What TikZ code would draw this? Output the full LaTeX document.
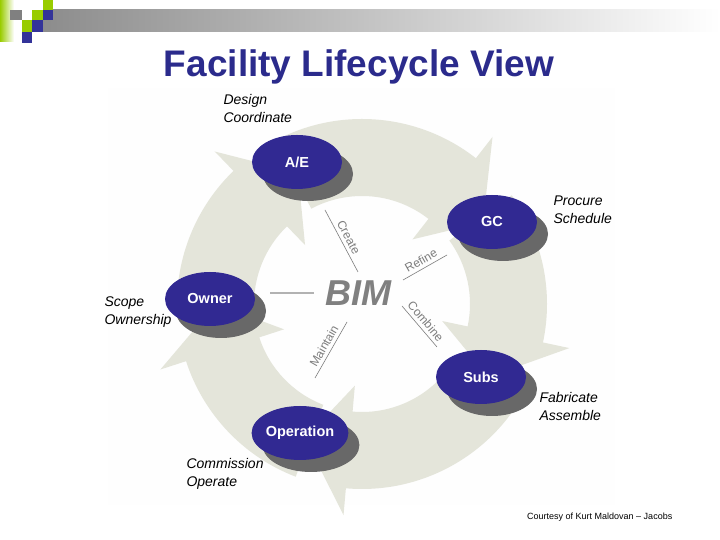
\documentclass[tikz,border=0pt]{standalone}
\usepackage{fontspec}
\setmainfont{Liberation Sans}
\usepackage{tikz}
\usetikzlibrary{positioning, calc, shapes, shadows}
\definecolor{slideblue}{RGB}{43,43,140}
\definecolor{discblue}{RGB}{49,41,146}
\definecolor{tileblue}{RGB}{51,51,153}
\definecolor{tilegreen}{RGB}{153,204,0}
\definecolor{discshadow}{RGB}{104,104,104}
\definecolor{ringgray}{RGB}{228,229,218}
\definecolor{spokegray}{RGB}{125,125,125}
\newcommand{\ringin}{108}
\newcommand{\ringout}{185}
\newcommand{\ringmid}{146}
\newcommand{\barbin}{82}
\newcommand{\barbout}{212}
% one curved arrow of the ring: tail angle, head base angle, tip angle
\newcommand{\ringarrow}[3]{\fill [ringgray, shift={(hub)}] (#1:\ringout) arc [start angle=#1, end angle=#2, radius=\ringout] -- (#2:\barbout) -- (#3:\ringmid) -- (#2:\barbin) -- (#2:\ringin) arc [start angle=#2, end angle=#1, radius=\ringin] -- cycle;}
\tikzset{>=stealth,
	disc/.style={ellipse, fill=discblue, text=white, font=\fontsize{14.5}{16}\selectfont\bfseries, minimum width=90pt, minimum height=54pt, inner sep=0pt, general shadow={fill=discshadow, shadow xshift=11pt, shadow yshift=-12pt}},
	role/.style={align=left, anchor=west, font=\fontsize{14}{18}\selectfont\itshape},
	spoke/.style={spokegray, line width=0.6pt},
	spoketext/.style={spokegray, font=\fontsize{12}{13}\selectfont, sloped, above, inner sep=3.5pt}}

\begin{document}
\begin{tikzpicture}[x=1pt, y=1pt]
				\useasboundingbox (0,0) rectangle (720,540);

				% banner
				\shade [left color=tilegreen, right color=white] (0,498) rectangle (14,540);
				\shade [left color=gray!90, right color=white] (43,508) rectangle (720,530);
				\fill [gray] (10,520) rectangle (22,530);
				\fill [tilegreen] (43,530) rectangle (53,540);
				\fill [tilegreen] (32,520) rectangle (43,530);
				\fill [tileblue] (43,520) rectangle (53,530);
				\fill [tilegreen] (22,508) rectangle (32,520);
				\fill [tileblue] (32,508) rectangle (43,520);
				\fill [tileblue] (22,497) rectangle (32,508);

				\node [slideblue, font=\fontsize{37}{40}\selectfont\bfseries, anchor=base] (title) at (359,463) {Facility Lifecycle View};

				\fill [white!97!ringgray] (108,35) rectangle (615,452);

				% ring of arrows
				\coordinate (hub) at (362,236);
				\ringarrow{182}{134}{116}
				\ringarrow{118}{52}{34}
				\ringarrow{36}{-12}{-30}
				\ringarrow{-28}{-95}{-113}
				\ringarrow{249}{198}{180}

				% spokes round BIM
				\coordinate (create-a) at (325,330);
				\coordinate (create-b) at (358,268);
				\coordinate (refine-a) at (403,260);
				\coordinate (refine-b) at (447,285);
				\coordinate (combine-a) at (402,234);
				\coordinate (combine-b) at (437,193);
				\coordinate (maintain-a) at (315,162);
				\coordinate (maintain-b) at (347,218);
				\draw [spoke] (create-a) -- (create-b) node [spoketext, midway] {Create};
				\draw [spoke] (refine-a) -- (refine-b) node [spoketext, midway] {Refine};
				\draw [spoke] (combine-a) -- (combine-b) node [spoketext, midway] {Combine};
				\draw [spoke] (maintain-a) -- (maintain-b) node [spoketext, midway] {Maintain};

				\node [text=gray, font=\fontsize{36}{38}\selectfont\bfseries\itshape] (bim) at (358,247) {BIM};

				\node [disc] (ae) at (297,378) {A/E};
				\node [disc] (gc) at (492,318) {GC};
				\node [disc] (owner) at (210,241) {Owner};
				\node [disc] (subs) at (481,163) {Subs};
				\node [disc, minimum width=95pt] (operation) at (300,107) {Operation};

				\draw [line width=1.6pt, black!30, shorten <=15pt, shorten >=7pt] (owner.east |- bim) -- (bim.west);

				\node [role] (ae-role) at (220,431) {Design\\Coordinate};
				\node [role] (gc-role) at (550,330) {Procure\\Schedule};
				\node [role] (owner-role) at (101,228) {Scope\\Ownership};
				\node [role] (subs-role) at (536,133) {Fabricate\\Assemble};
				\node [role] (operation-role) at (183,66) {Commission\\Operate};

				\node [anchor=base west, font=\fontsize{9}{10}\selectfont, inner sep=0pt] (credit) at (527,20) {Courtesy of Kurt Maldovan – Jacobs};
\end{tikzpicture}
\end{document}
